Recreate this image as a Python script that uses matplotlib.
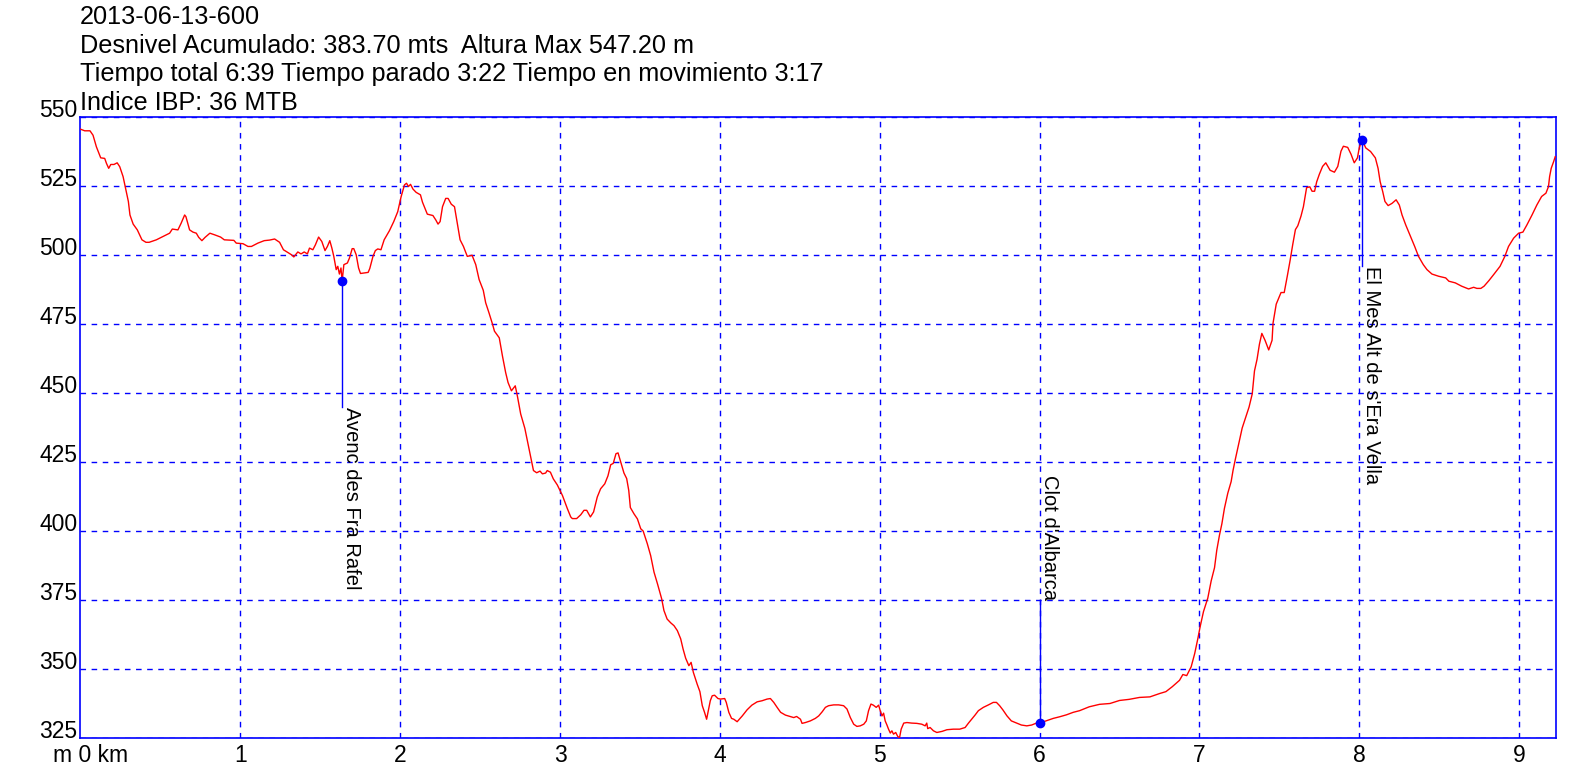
import matplotlib
matplotlib.use("Agg")
import matplotlib.pyplot as plt

plt.rcParams['font.family'] = ['Liberation Sans', 'DejaVu Sans']

# ---------------- data ----------------
dist_km = [
    0.000, 0.027, 0.060, 0.079, 0.100, 0.127, 0.152, 0.163, 0.177, 0.190, 0.210, 0.230, 0.246, 0.267, 0.280,
    0.300, 0.310, 0.330, 0.356, 0.385, 0.410, 0.430, 0.475, 0.517, 0.558, 0.575, 0.610, 0.630, 0.652, 0.660,
    0.683, 0.704, 0.725, 0.740, 0.760, 0.780, 0.810, 0.840, 0.877, 0.900, 0.960, 0.975, 1.017, 1.048, 1.070,
    1.110, 1.150, 1.183, 1.215, 1.246, 1.270, 1.320, 1.335, 1.360, 1.380, 1.400, 1.420, 1.433, 1.454, 1.470,
    1.490, 1.510, 1.530, 1.545, 1.560, 1.573, 1.585, 1.600, 1.610, 1.620, 1.630, 1.637, 1.648, 1.670, 1.683,
    1.700, 1.710, 1.725, 1.740, 1.752, 1.800, 1.810, 1.830, 1.845, 1.860, 1.880, 1.900, 1.933, 1.960, 1.985,
    2.006, 2.027, 2.040, 2.052, 2.065, 2.080, 2.100, 2.127, 2.140, 2.170, 2.205, 2.223, 2.237, 2.250, 2.265,
    2.285, 2.300, 2.320, 2.340, 2.354, 2.375, 2.396, 2.420, 2.450, 2.473, 2.494, 2.520, 2.535, 2.556, 2.577,
    2.590, 2.620, 2.640, 2.660, 2.675, 2.696, 2.720, 2.733, 2.754, 2.780, 2.796, 2.817, 2.834, 2.854, 2.875,
    2.890, 2.910, 2.920, 2.940, 2.958, 2.983, 3.015, 3.046, 3.067, 3.077, 3.104, 3.130, 3.150, 3.167, 3.190,
    3.210, 3.233, 3.254, 3.280, 3.300, 3.317, 3.333, 3.350, 3.363, 3.380, 3.400, 3.417, 3.430, 3.440, 3.463,
    3.484, 3.505, 3.520, 3.546, 3.567, 3.588, 3.610, 3.636, 3.650, 3.670, 3.693, 3.713, 3.734, 3.755, 3.770,
    3.786, 3.806, 3.820, 3.834, 3.858, 3.875, 3.890, 3.904, 3.917, 3.930, 3.940, 3.952, 3.967, 3.988, 4.004,
    4.030, 4.040, 4.056, 4.073, 4.087, 4.108, 4.140, 4.170, 4.200, 4.233, 4.264, 4.295, 4.316, 4.337, 4.358,
    4.380, 4.410, 4.440, 4.462, 4.480, 4.504, 4.514, 4.535, 4.566, 4.597, 4.618, 4.640, 4.660, 4.680, 4.712,
    4.743, 4.774, 4.795, 4.816, 4.837, 4.857, 4.878, 4.900, 4.916, 4.930, 4.945, 4.960, 4.978, 4.993, 5.003,
    5.014, 5.024, 5.034, 5.045, 5.055, 5.066, 5.076, 5.086, 5.100, 5.113, 5.124, 5.134, 5.150, 5.170, 5.200,
    5.232, 5.263, 5.284, 5.294, 5.300, 5.315, 5.336, 5.357, 5.390, 5.420, 5.460, 5.500, 5.534, 5.555, 5.575,
    5.596, 5.617, 5.648, 5.680, 5.710, 5.730, 5.750, 5.770, 5.796, 5.823, 5.856, 5.886, 5.920, 5.950, 5.980,
    6.000, 6.040, 6.085, 6.126, 6.168, 6.210, 6.250, 6.310, 6.375, 6.440, 6.500, 6.560, 6.625, 6.690, 6.750,
    6.790, 6.830, 6.875, 6.896, 6.920, 6.948, 6.970, 6.990, 7.004, 7.025, 7.052, 7.073, 7.094, 7.108, 7.125,
    7.140, 7.156, 7.177, 7.198, 7.210, 7.225, 7.246, 7.267, 7.290, 7.310, 7.330, 7.344, 7.360, 7.375, 7.390,
    7.410, 7.433, 7.454, 7.460, 7.480, 7.510, 7.530, 7.550, 7.567, 7.583, 7.600, 7.615, 7.635, 7.650, 7.670,
    7.690, 7.704, 7.720, 7.733, 7.750, 7.770, 7.790, 7.817, 7.844, 7.865, 7.885, 7.900, 7.927, 7.948, 7.968,
    7.988, 8.000, 8.017, 8.040, 8.070, 8.100, 8.117, 8.130, 8.146, 8.160, 8.180, 8.204, 8.230, 8.250, 8.267,
    8.290, 8.320, 8.346, 8.370, 8.400, 8.423, 8.454, 8.496, 8.540, 8.560, 8.600, 8.640, 8.683, 8.715, 8.735,
    8.760, 8.780, 8.810, 8.840, 8.880, 8.910, 8.933, 8.965, 8.996, 9.023, 9.048, 9.080, 9.110, 9.140, 9.167,
    9.183, 9.190, 9.200, 9.215, 9.225,
]
elev_m = [
    545.6, 545.0, 545.0, 543.4, 539.2, 535.2, 535.0, 533.2, 531.4, 532.8, 532.8, 533.4, 532.0, 528.4, 524.8,
    519.4, 514.5, 511.2, 509.1, 505.5, 504.6, 504.6, 505.5, 506.7, 507.9, 509.4, 509.1, 511.5, 514.5, 513.9,
    509.1, 508.3, 507.9, 506.4, 505.2, 506.4, 507.9, 507.3, 506.5, 505.5, 505.3, 504.3, 504.1, 503.1, 503.1,
    504.3, 505.2, 505.4, 505.8, 504.6, 501.9, 500.1, 499.3, 501.1, 500.4, 501.1, 500.4, 502.5, 501.9, 503.7,
    506.5, 504.9, 501.6, 503.1, 505.2, 502.5, 499.5, 494.7, 495.9, 493.1, 495.3, 490.5, 496.5, 497.1, 498.9,
    502.3, 502.3, 500.1, 495.3, 493.3, 493.7, 495.1, 499.5, 501.6, 502.2, 501.9, 505.5, 508.8, 512.1, 515.7,
    521.1, 525.4, 526.0, 524.8, 525.6, 523.9, 522.7, 521.8, 519.1, 514.8, 514.3, 512.7, 511.2, 512.1, 517.5,
    520.5, 520.5, 518.4, 517.5, 512.7, 505.5, 503.1, 499.5, 499.9, 496.5, 491.1, 487.2, 482.7, 479.0, 475.1,
    472.4, 470.0, 463.4, 457.4, 453.8, 450.8, 452.6, 449.0, 442.4, 437.2, 432.7, 426.7, 421.9, 421.1, 421.7,
    420.7, 421.0, 421.9, 421.3, 418.9, 416.7, 412.9, 408.1, 405.1, 404.5, 404.5, 405.9, 407.5, 407.5, 405.1,
    406.9, 412.3, 415.3, 417.1, 420.0, 424.0, 424.5, 428.0, 428.3, 425.0, 421.0, 419.0, 414.7, 408.5, 406.2,
    404.4, 400.8, 400.0, 395.4, 391.1, 385.1, 380.8, 375.4, 371.2, 368.1, 366.7, 365.7, 363.9, 360.9, 357.2,
    353.9, 351.2, 352.4, 348.8, 344.5, 341.8, 336.7, 334.3, 331.8, 335.5, 338.5, 340.3, 340.5, 339.3, 339.1,
    339.3, 337.9, 334.3, 332.1, 331.8, 330.9, 333.0, 335.2, 336.9, 338.1, 338.5, 339.1, 339.3, 337.9, 336.1,
    334.3, 333.3, 332.8, 332.4, 332.8, 331.8, 330.3, 330.6, 331.2, 332.1, 333.0, 334.5, 336.1, 336.7, 337.0,
    337.0, 336.7, 335.5, 332.4, 330.0, 329.2, 329.4, 330.0, 331.2, 334.9, 337.3, 336.9, 336.1, 336.9, 334.9,
    333.0, 334.0, 331.2, 329.7, 328.2, 326.8, 327.6, 326.4, 327.0, 325.5, 325.2, 328.2, 330.4, 330.6, 330.4,
    330.3, 330.0, 329.4, 330.4, 328.4, 328.8, 327.6, 327.0, 327.4, 328.0, 328.2, 328.2, 328.8, 330.4, 331.8,
    333.3, 334.9, 336.1, 337.0, 337.9, 337.9, 336.7, 335.2, 333.0, 331.2, 330.4, 329.7, 329.4, 329.7, 330.4,
    330.4, 331.2, 332.1, 332.7, 333.4, 334.3, 334.9, 336.3, 337.2, 337.5, 338.6, 339.0, 339.7, 339.9, 341.1,
    341.8, 343.6, 345.9, 348.0, 347.6, 350.8, 355.6, 361.1, 365.3, 370.8, 375.7, 381.9, 386.7, 393.0, 398.5,
    402.6, 408.2, 413.7, 417.9, 422.0, 426.2, 431.7, 437.3, 441.4, 444.9, 449.7, 458.0, 462.2, 467.7, 471.6,
    469.1, 465.6, 469.1, 475.3, 482.2, 486.4, 486.4, 492.6, 498.1, 503.7, 509.2, 510.6, 514.1, 517.5, 524.4,
    524.7, 523.1, 523.1, 526.5, 529.3, 532.1, 533.4, 530.7, 530.0, 532.1, 537.6, 539.4, 539.0, 536.5, 533.4,
    535.2, 539.0, 541.7, 538.8, 537.5, 535.2, 531.4, 526.6, 523.0, 519.4, 517.9, 518.7, 520.0, 518.1, 514.5,
    510.9, 506.7, 503.1, 499.5, 496.5, 494.7, 493.1, 492.3, 491.7, 490.5, 489.9, 488.7, 487.7, 488.3, 487.9,
    487.9, 488.7, 490.7, 492.9, 495.9, 499.5, 503.1, 506.1, 507.9, 508.3, 510.9, 514.5, 518.1, 521.2, 522.4,
    524.8, 528.4, 531.4, 533.8, 535.6,
]

waypoint_names = ["Avenc des Fra Rafel", "Clot d'Albarca", "El Mes Alt de s'Era Vella"]
waypoint_km = [1.637, 6.000, 8.017]
waypoint_elev = [490.5, 330.4, 541.7]
waypoint_label_elev = [445.0, 375.0, 496.0]
waypoint_label_side = ["below", "above", "below"]

title_lines = [
    "2013-06-13-600",
    "Desnivel Acumulado: 383.70 mts  Altura Max 547.20 m",
    "Tiempo total 6:39 Tiempo parado 3:22 Tiempo en movimiento 3:17",
    "Indice IBP: 36 MTB",
]

x_ticks = [1, 2, 3, 4, 5, 6, 7, 8, 9]
y_ticks = [325, 350, 375, 400, 425, 450, 475, 500, 525, 550]
x_min, x_max = 0.0, 9.23
y_min, y_max = 325, 550

BLUE = "#0000FF"
RED = "#FF0000"
W, H = 1596, 778

fig = plt.figure(figsize=(W / 100, H / 100), dpi=100)
ax = fig.add_axes([80.4 / W, 40.0 / H, (1556.0 - 80.4) / W, (738.0 - 117.0) / H])

ax.plot(dist_km, elev_m, color=RED, lw=1.0, zorder=3)

ax.set_xlim(x_min, x_max)
ax.set_ylim(y_min, y_max)

ax.set_xticks(x_ticks)
ax.set_xticklabels([str(t) for t in x_ticks])
ax.set_xticks([0.065], minor=True)
ax.set_xticklabels(["m 0 km"], minor=True)
ax.set_yticks(y_ticks)
ax.set_yticklabels([str(t) for t in y_ticks])
ax.tick_params(axis='both', which='both', length=0, labelsize=16.5, colors='black')
ax.tick_params(axis='x', which='both', pad=4)
ax.tick_params(axis='y', pad=2)
for lbl in ax.get_yticklabels():
    lbl.set_verticalalignment('baseline')

ax.grid(True, which='major', color=BLUE, linestyle=(0, (4, 4)), linewidth=1.0)
for s in ax.spines.values():
    s.set_color(BLUE)
    s.set_linewidth(1.2)

# waypoints
for name, xk, ye, yl, side in zip(waypoint_names, waypoint_km, waypoint_elev,
                                  waypoint_label_elev, waypoint_label_side):
    ax.plot([xk, xk], [ye, yl], color=BLUE, lw=1.0, zorder=4)
    ax.plot([xk], [ye], 'o', color=BLUE, ms=6, zorder=5)
    va = 'top' if side == "below" else 'bottom'
    ax.text(xk, yl, name, rotation=270, ha='left', va=va, fontsize=14.5,
            color='black', zorder=6)

# header
baselines = [24.4, 52.9, 81.4, 109.9]
for line, b in zip(title_lines, baselines):
    fig.text(80.0 / W, 1 - b / H, line, fontsize=18.2, ha='left', va='baseline', color='black')

fig.savefig("out.png", dpi=100, facecolor='white')
